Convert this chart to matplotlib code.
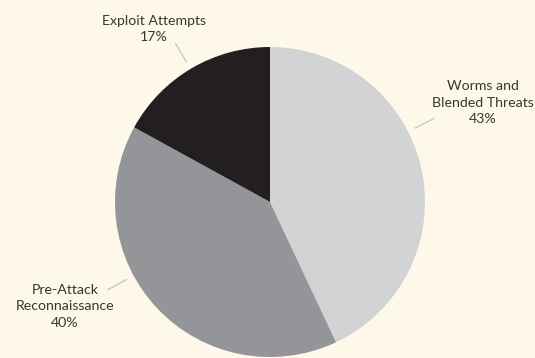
import numpy as np
import matplotlib.pyplot as plt

# data
labels = ['Worms and\nBlended Threats\n43%', 'Pre-Attack\nReconnaissance\n40%', 'Exploit Attempts\n17%']
values = [43, 40, 17]
colors = ['#d1d3d4', '#939598', '#231f20']

# label placement (angle deg, text position in radius units)
leader_ang = [27, 208.4, 120.8]
text_pos = [(1.371, 0.639), (-1.323, -0.671), (-0.748, 1.116)]

bg = '#fdf8e8'
W, H = 535, 358
fig = plt.figure(figsize=(W/100, H/100), dpi=100, facecolor=bg)
cx, cy, r = 270, 202, 155
ax = fig.add_axes([(cx-r)/W, (H-cy-r)/H, 2*r/W, 2*r/H])
ax.set_facecolor(bg)
ax.pie(values, colors=colors, startangle=90, counterclock=False, radius=1,
       wedgeprops=dict(linewidth=0))
ax.set_xlim(-1, 1)
ax.set_ylim(-1, 1)
ax.set_aspect('equal')
ax.axis('off')

for lab, a, (tx, ty) in zip(labels, leader_ang, text_pos):
    t = np.deg2rad(a)
    ax.plot([1.05*np.cos(t), 1.19*np.cos(t)], [1.05*np.sin(t), 1.19*np.sin(t)],
            color='#b9c1cb', lw=0.8, clip_on=False)
    ax.text(tx, ty, lab, ha='center', va='center', fontsize=10.2, family='Lato',
            color='#363636', linespacing=1.45, clip_on=False)

fig.savefig('out.png', dpi=100, facecolor=bg)
